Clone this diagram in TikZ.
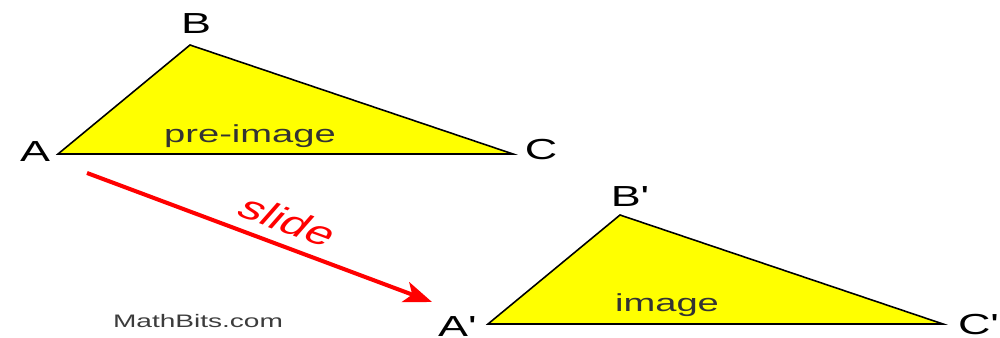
\documentclass[tikz,border=0pt]{standalone}
\usepackage{fontspec}
\setmainfont{Liberation Sans}[FakeStretch=1.55]
\newfontfamily\plainsans{Liberation Sans}
\usepackage{tikz}
\usetikzlibrary{arrows.meta, positioning}
\definecolor{SlideRed}{HTML}{FF0000}
\definecolor{TriYellow}{HTML}{FFFF00}
\definecolor{TextGray}{HTML}{3C3C3C}

\begin{document}
\begin{tikzpicture}[
    tri/.style={draw=black, line width=0.9pt, fill=TriYellow},
    vlabel/.style={font=\fontsize{16.5}{18}\selectfont, inner sep=0pt},
    inlabel/.style={font=\fontsize{14}{16}\selectfont, text=black!80, inner sep=0pt, anchor=base}
]

    % page frame
    \clip (0,0) rectangle (20,6.76);

    % === Pre-image ===
    \begin{scope}[shift={(0,0)}]
        \coordinate (A) at (1.16,3.68);
        \coordinate (B) at (3.80,5.86);
        \coordinate (C) at (10.26,3.68);
        \draw[tri] (A) -- (B) -- (C) -- cycle;

        % Labels
        \node[vlabel] (lA) at (0.70,3.72) {A};
        \node[vlabel] (lB) at (3.92,6.28) {B};
        \node[vlabel] (lC) at (10.82,3.76) {C};
        \node[inlabel] (pre) at (5.00,3.90) {pre-image};
    \end{scope}

    % === Image: same triangle slid by (8.6,-3.4) ===
    \begin{scope}[shift={(8.6,-3.4)}]
        \coordinate (A') at (1.16,3.68);
        \coordinate (B') at (3.80,5.86);
        \coordinate (C') at (10.26,3.68);
        \draw[tri] (A') -- (B') -- (C') -- cycle;

        % Labels
        \node[vlabel] (lA') at (0.52,3.62) {A\textquotesingle};
        \node[vlabel] (lB') at (3.97,6.22) {B\textquotesingle};
        \node[vlabel] (lC') at (10.94,3.66) {C\textquotesingle};
        \node[inlabel] (img) at (4.74,3.92) {image};
    \end{scope}

    % Slide arrow
    \coordinate (s0) at (1.74,3.30);
    \coordinate (s1) at (8.64,0.72);
    \draw[SlideRed, line width=2.3pt, -{Stealth[length=16pt, width=12pt, inset=4pt]}] (s0) -- (s1);

    % slide text (rotated, then widened like the rest)
    \begin{scope}[xscale=1.55]
        \node[transform shape, rotate=-29.6, text=SlideRed, inner sep=0pt,
              font=\plainsans\fontsize{18.5}{20}\selectfont] (slide) at (3.72,2.34) {slide};
    \end{scope}

    % Credit
    \node[font=\fontsize{10.3}{12}\selectfont, text=TextGray, inner sep=0pt, anchor=base] (credit) at (3.96,0.20) {MathBits.com};

\end{tikzpicture}
\end{document}
